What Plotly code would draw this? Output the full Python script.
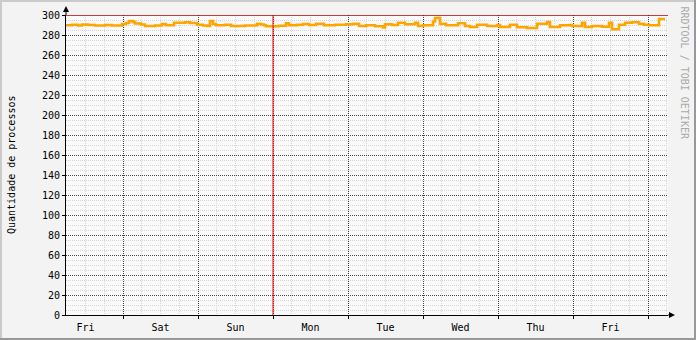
import pandas as pd
import plotly.graph_objects as go

# ---------------- data ----------------
start_day = "2024-01-05"  # a Friday
# hours after start_day 00:00 at which the sampled value changes
hours = [5.76, 7.68, 9.6, 10.88, 12.8, 15.04, 18.24, 20.48, 23.68, 24.96,
         25.92, 27.2, 27.84, 29.76, 31.04, 34.24, 36.48, 37.76, 40.32, 43.84,
         45.44, 47.68, 49.6, 50.88, 51.84, 52.8, 53.76, 56.64, 58.56, 63.04,
         66.88, 68.16, 69.12, 69.76, 73.92, 76.16, 77.12, 79.68, 81.6, 83.52,
         85.76, 88.32, 91.84, 95.36, 97.6, 99.52, 101.76, 104.64, 107.2, 107.84,
         110.08, 112.0, 114.24, 117.44, 118.4, 120.0, 123.2, 123.84, 125.44, 127.36,
         131.2, 133.44, 135.04, 137.28, 140.48, 143.68, 144.64, 147.84, 150.08, 153.28,
         156.48, 159.68, 160.64, 163.84, 167.04, 167.68, 170.88, 171.84, 174.08, 177.28,
         179.52, 180.48, 182.72, 184.64, 186.88, 189.12, 190.72, 192.32, 195.52, 197.44]
processes = [289.7, 290.2, 289.5, 290.5, 290.0, 289.5, 290.0, 289.5, 291.0, 292.0,
             294.0, 293.0, 291.5, 290.5, 289.0, 289.5, 291.0, 289.7, 292.3, 292.8,
             292.0, 290.3, 289.5, 289.0, 294.0, 291.0, 289.7, 290.3, 289.0, 289.5,
             291.3, 290.5, 289.7, 288.7, 289.3, 291.7, 289.7, 290.3, 291.0, 290.0,
             291.3, 289.7, 290.3, 290.7, 291.3, 289.0, 289.7, 288.7, 287.5, 290.7,
             290.0, 292.3, 290.7, 292.3, 289.0, 289.7, 293.5, 297.0, 291.3, 289.7,
             291.7, 289.0, 288.0, 290.3, 289.0, 290.0, 288.0, 290.3, 287.8, 287.0,
             291.3, 293.0, 288.0, 289.7, 290.0, 289.0, 292.3, 288.0, 289.0, 288.3,
             292.3, 285.7, 290.3, 292.3, 292.8, 291.3, 290.3, 289.7, 296.0, 296.0]
range_hours = [5.76, 198.4]
hrule_value = 300
vrule_hour = 72  # Monday 00:00
y_max = 300
y_major = 20
y_minor = 5
y_title = "Quantidade de processos"
watermark = "RRDTOOL / TOBI OETIKER"

base = pd.Timestamp(start_day)
times = [base + pd.Timedelta(hours=h) for h in hours]
x_range = [base + pd.Timedelta(hours=h) for h in range_hours]
vrule_time = base + pd.Timedelta(hours=vrule_hour)

# ---------------- layout geometry ----------------
W, H = 696, 340
L, R, T, B = 66, 28, 15, 25
PW, PH = W - L - R, H - T - B


def px(xp):
    return (xp - L) / PW


def py(yp):
    return (H - B - yp) / PH


FONT = "DejaVu Sans Mono"

fig = go.Figure()
fig.add_trace(go.Scatter(
    x=times, y=processes, mode="lines", line_shape="hv",
    line=dict(color="#FFA500", width=2.6), hoverinfo="skip", showlegend=False,
))

shapes = []
# HRULE
shapes.append(dict(type="line", xref="x domain", yref="y", x0=0, x1=1,
                   y0=hrule_value, y1=hrule_value,
                   line=dict(color="#B00000", width=1.5), layer="above"))
# VRULE
shapes.append(dict(type="line", xref="x", yref="y domain", x0=vrule_time, x1=vrule_time,
                   y0=0, y1=1, line=dict(color="#FF0000", width=1), layer="above"))
# axis extensions & arrows
shapes.append(dict(type="line", xref="paper", yref="paper", x0=0, x1=0, y0=1, y1=py(9),
                   line=dict(color="#000000", width=1)))
shapes.append(dict(type="path", xref="paper", yref="paper",
                   path=f"M {px(63)},{py(12)} L {px(69)},{py(12)} L {px(66)},{py(6)} Z",
                   fillcolor="#000000", line=dict(width=0)))
shapes.append(dict(type="line", xref="paper", yref="paper", x0=1, x1=px(670), y0=0, y1=0,
                   line=dict(color="#000000", width=1)))
shapes.append(dict(type="path", xref="paper", yref="paper",
                   path=f"M {px(669)},{py(312)} L {px(669)},{py(318)} L {px(675)},{py(315)} Z",
                   fillcolor="#000000", line=dict(width=0)))
# 3D-ish frame
for (x0, y0, x1, y1, c) in [(0, 0, W, 2, "#CBCBCB"), (0, 0, 2, H, "#CBCBCB"),
                            (0, H - 2, W, H, "#999999"), (W - 2, 0, W, H, "#999999")]:
    shapes.append(dict(type="rect", xref="paper", yref="paper",
                       x0=px(x0), x1=px(x1), y0=py(y1), y1=py(y0),
                       fillcolor=c, line=dict(width=0), layer="above"))

annotations = [
    dict(text=y_title, xref="paper", yref="paper", x=px(11), y=py(165),
         textangle=-90, showarrow=False, font=dict(family=FONT, size=10, color="#000000"),
         xanchor="center", yanchor="middle"),
    dict(text=watermark, xref="paper", yref="paper", x=px(684), y=py(4),
         textangle=90, showarrow=False, font=dict(family=FONT, size=10, color="#AAAAAA"),
         xanchor="center", yanchor="top"),
]

fig.update_layout(
    width=W, height=H,
    margin=dict(l=L, r=R, t=T, b=B, pad=0, autoexpand=False),
    paper_bgcolor="#F3F3F3", plot_bgcolor="#FAFAFA",
    font=dict(family=FONT, size=10, color="#000000"),
    shapes=shapes, annotations=annotations,
    showlegend=False,
)
fig.update_xaxes(
    type="date", range=x_range, tick0=start_day, dtick=86400000,
    tickformat="%a", ticklabelmode="period", automargin=False,
    showgrid=True, gridcolor="#444444", griddash="1px,1px", gridwidth=1,
    minor=dict(dtick=6 * 3600000, tick0=start_day, showgrid=True,
               gridcolor="#D6D6D6", griddash="1px,1px", gridwidth=1, ticks=""),
    ticks="outside", ticklen=3, tickcolor="#000000",
    showline=True, linecolor="#000000", linewidth=1,
    zeroline=False, fixedrange=True,
    tickfont=dict(family=FONT, size=10, color="#000000"),
)
fig.update_yaxes(
    range=[0, y_max], tick0=0, dtick=y_major, automargin=False,
    showgrid=True, gridcolor="#444444", griddash="1px,1px", gridwidth=1,
    minor=dict(dtick=y_minor, tick0=0, showgrid=True,
               gridcolor="#D6D6D6", griddash="1px,1px", gridwidth=1, ticks=""),
    ticks="outside", ticklen=3, tickcolor="#000000",
    showline=True, linecolor="#000000", linewidth=1,
    zeroline=False, fixedrange=True,
    tickfont=dict(family=FONT, size=10, color="#000000"),
)

fig.write_html("out.html")
